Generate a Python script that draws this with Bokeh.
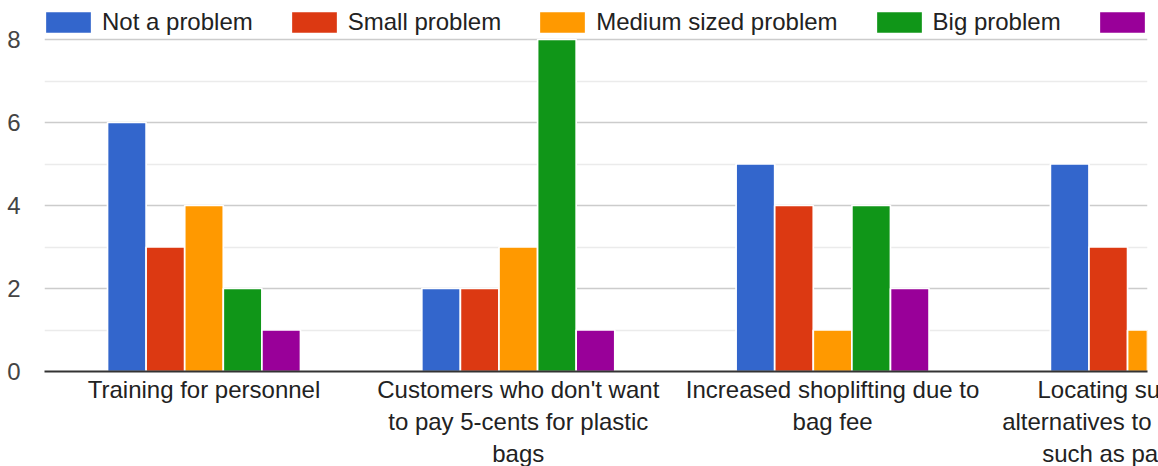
from bokeh.plotting import figure
from bokeh.models import FixedTicker, Legend, LegendItem, ColumnDataSource
from bokeh.embed import file_html
from bokeh.resources import INLINE

categories = [
    "Training for personnel",
    "Customers who don't want\nto pay 5-cents for plastic\nbags",
    "Increased shoplifting due to\nbag fee",
    "Locating sustainable\nalternatives to plastic bags,\nsuch as paper bags",
]
series_names = ["Not a problem", "Small problem", "Medium sized problem", "Big problem", "Very big problem"]
nan = float("nan")
not_a_problem = [6, 2, 5, 5]
small_problem = [3, 2, 4, 3]
medium_problem = [4, 3, 1, 1]
big_problem = [2, 8, 4, nan]
very_big_problem = [1, 1, 2, nan]
series_values = [not_a_problem, small_problem, medium_problem, big_problem, very_big_problem]
colors = ["#3366cc", "#dc3912", "#ff9900", "#109618", "#990099"]
y_ticks = [0, 2, 4, 6, 8]
y_minor = [1, 3, 5, 7]

FONT = "Liberation Sans"
FS = "24px"

FRAME_H = 371
p = figure(
    output_backend="svg", toolbar_location=None,
    frame_width=1103, frame_height=FRAME_H,
    x_range=(-0.0075, 3.502), y_range=(0, 8 * FRAME_H / 332),
    min_border_left=44, min_border_right=160, min_border_top=0, min_border_bottom=0,
)
p.outline_line_color = None

centers = [i + 0.5 for i in range(len(categories))]
slot = 0.1228
items = []
for j, (name, vals, c) in enumerate(zip(series_names, series_values, colors)):
    xs = [cx + (j - 2) * slot for cx in centers]
    src = ColumnDataSource(dict(x=xs, top=vals))
    r = p.vbar(x="x", top="top", width=slot, source=src, fill_color=c,
               line_color="white", line_width=1.7)
    items.append(LegendItem(label=name, renderers=[r]))

legend = Legend(items=items, orientation="horizontal", location=(-5, 335),
                glyph_width=58, glyph_height=28, label_standoff=5, spacing=32,
                padding=0, margin=0, border_line_color=None, background_fill_alpha=0,
                label_text_font=FONT, label_text_font_size=FS, label_text_color="#222222",
                label_height=28)
p.add_layout(legend, "center")

p.yaxis.ticker = FixedTicker(ticks=y_ticks, minor_ticks=y_minor)
p.yaxis.axis_line_color = None
p.yaxis.major_tick_line_color = None
p.yaxis.minor_tick_line_color = None
p.yaxis.major_label_standoff = 18
p.yaxis.major_label_text_font = FONT
p.yaxis.major_label_text_font_size = FS
p.yaxis.major_label_text_color = "#444444"

p.ygrid.ticker = FixedTicker(ticks=y_ticks, minor_ticks=y_minor)
p.ygrid.grid_line_color = "#cccccc"
p.ygrid.grid_line_width = 1.7
p.ygrid.minor_grid_line_color = "#ebebeb"
p.ygrid.minor_grid_line_width = 1.7
p.xgrid.grid_line_color = None

p.xaxis.ticker = FixedTicker(ticks=centers)
p.xaxis.major_label_overrides = {cx: lab for cx, lab in zip(centers, categories)}
p.xaxis.axis_line_color = "#333333"
p.xaxis.axis_line_width = 2
p.xaxis.major_tick_line_color = None
p.xaxis.minor_tick_line_color = None
p.xaxis.major_label_standoff = -2
p.xaxis.major_label_text_font = FONT
p.xaxis.major_label_text_font_size = FS
p.xaxis.major_label_text_color = "#222222"

open("out.html", "w").write(file_html(p, INLINE))
